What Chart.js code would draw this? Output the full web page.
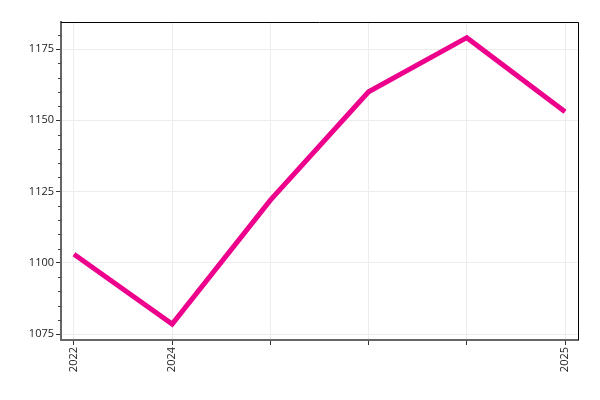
<!DOCTYPE html>
<html>
<head>
<meta charset="utf-8">
<script src="https://cdn.jsdelivr.net/npm/chart.js@4"></script>
<style>
  html, body { margin: 0; padding: 0; background: #fff; }
  #wrap { width: 600px; height: 400px; }
</style>
</head>
<body>
<div id="wrap"><canvas id="myChart"></canvas></div>
<script>
// data
var years = ["2022", "2024", "", "", "", "2025"];
var values = [1103, 1078.5, 1122, 1160, 1179, 1153];
var yTicks = [1075, 1100, 1125, 1150, 1175];

var points = values.map(function (v, i) { return { x: i, y: v }; });

// top/right frame + minor ticks on y
var framePlugin = {
    id: "frame",
    afterDraw: function (chart) {
        var ctx = chart.ctx;
        var a = chart.chartArea;
        var y = chart.scales.y;
        ctx.save();
        ctx.strokeStyle = "#000";
        ctx.lineWidth = 1;
        ctx.beginPath();
        ctx.moveTo(a.left, a.top + 0.5);
        ctx.lineTo(a.right + 0.5, a.top + 0.5);
        ctx.lineTo(a.right + 0.5, a.bottom);
        ctx.stroke();
        ctx.strokeStyle = "#444";
        for (var v = 1075; v <= y.max; v += 5) {
            if (v % 25 === 0) continue;
            var py = Math.round(y.getPixelForValue(v)) + 0.5;
            ctx.beginPath();
            ctx.moveTo(a.left - 3, py);
            ctx.lineTo(a.left, py);
            ctx.stroke();
        }
        ctx.restore();
    }
};

var ctx = document.getElementById("myChart").getContext("2d");
var myChart = new Chart(ctx, {
    type: "line",
    data: {
        datasets: [{
            data: points,
            borderColor: "#ec008c",
            borderWidth: 5,
            pointRadius: 0,
            tension: 0,
            fill: false
        }]
    },
    options: {
        responsive: true,
        maintainAspectRatio: false,
        animation: false,
        layout: { padding: { left: 0, top: 22, right: 22, bottom: 0 } },
        plugins: { legend: { display: false }, tooltip: { enabled: false } },
        scales: {
            x: {
                type: "linear",
                min: -0.132,
                max: 5.132,
                afterBuildTicks: function (scale) {
                    scale.ticks = years.map(function (y, i) { return { value: i }; });
                },
                afterFit: function (scale) { scale.height = 60; },
                ticks: {
                    autoSkip: false,
                    minRotation: 90,
                    maxRotation: 90,
                    color: "#222",
                    font: { family: "Open Sans", size: 11 },
                    padding: 2,
                    callback: function (v) { return years[v]; }
                },
                grid: { color: "#ececec", tickColor: "#333", tickLength: 5, drawOnChartArea: true },
                border: { color: "#666", width: 2 }
            },
            y: {
                min: 1072.9,
                max: 1184.5,
                afterBuildTicks: function (scale) {
                    scale.ticks = yTicks.map(function (v) { return { value: v }; });
                },
                afterFit: function (scale) { scale.width = 61; },
                ticks: {
                    color: "#222",
                    font: { family: "Open Sans", size: 11 },
                    padding: 2,
                    callback: function (v) { return String(v); }
                },
                grid: { color: "#ececec", tickColor: "#333", tickLength: 5 },
                border: { color: "#666", width: 2 }
            }
        }
    },
    plugins: [framePlugin]
});
</script>
</body>
</html>
